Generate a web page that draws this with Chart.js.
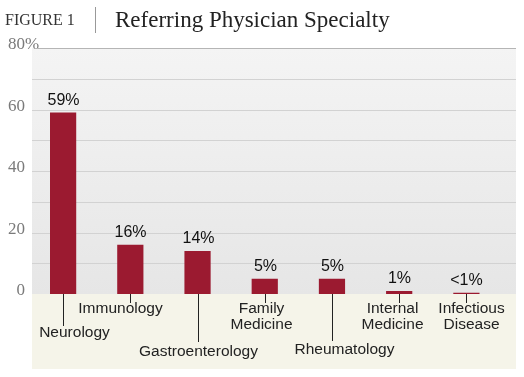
<!DOCTYPE html>
<html>
<head>
<meta charset="utf-8">
<script src="https://cdn.jsdelivr.net/npm/chart.js@4/dist/chart.umd.min.js"></script>
<style>
  html, body { margin: 0; padding: 0; background: #fff; }
  #wrap { position: relative; width: 524px; height: 377px; }
</style>
</head>
<body>
<div id="wrap"><canvas id="chart" width="524" height="377"></canvas></div>
<script>
const categories = [
  ['Neurology'],
  ['Immunology'],
  ['Gastroenterology'],
  ['Family', 'Medicine'],
  ['Rheumatology'],
  ['Internal', 'Medicine'],
  ['Infectious', 'Disease']
];
const shares = [59, 16, 14, 5, 5, 1, 0.4];
const valueLabels = ['59%', '16%', '14%', '5%', '5%', '1%', '<1%'];
const yTicks = [0, 20, 40, 60, 80];

// label placement under the axis (leader length, text centre y, x nudge)
const labelLayout = [
  { lineTo: 326, y: 333, dx: 11 },
  { lineTo: 303, y: 309, dx: -10 },
  { lineTo: 342, y: 352, dx: 0 },
  { lineTo: 303, y: 309, dx: -4 },
  { lineTo: 341, y: 350, dx: 12 },
  { lineTo: 303, y: 309, dx: -7 },
  { lineTo: 303, y: 309, dx: 5 }
];

const PLOT_LEFT = 32, PLOT_RIGHT = 516, BEIGE_BOTTOM = 369;
const SANS = '"Liberation Sans", Arial, sans-serif';
const SERIF = '"Liberation Serif", "DejaVu Serif", serif';

const backdrop = {
  id: 'backdrop',
  beforeDraw(chart) {
    const ctx = chart.ctx;
    const y = chart.scales.y;
    const top = y.getPixelForValue(80), bottom = y.getPixelForValue(0);
    ctx.save();
    // title
    ctx.fillStyle = '#333';
    ctx.textBaseline = 'alphabetic';
    ctx.font = '16px ' + SERIF;
    ctx.fillText('FIGURE 1', 5, 25);
    ctx.strokeStyle = '#999';
    ctx.lineWidth = 1;
    ctx.beginPath(); ctx.moveTo(95.5, 7); ctx.lineTo(95.5, 33); ctx.stroke();
    ctx.font = '23px ' + SERIF;
    ctx.fillStyle = '#222';
    ctx.fillText('Referring Physician Specialty', 115, 27);

    // plot background
    const g = ctx.createLinearGradient(0, top, 0, bottom);
    g.addColorStop(0, '#f4f4f4');
    g.addColorStop(1, '#e6e6e6');
    ctx.fillStyle = g;
    ctx.fillRect(PLOT_LEFT, top, PLOT_RIGHT - PLOT_LEFT, bottom - top);
    ctx.fillStyle = '#f5f4e9';
    ctx.fillRect(PLOT_LEFT, bottom, PLOT_RIGHT - PLOT_LEFT, BEIGE_BOTTOM - bottom);

    // grid
    for (let v = 10; v < 80; v += 10) {
      const py = Math.round(y.getPixelForValue(v)) + 0.5;
      ctx.strokeStyle = '#d2d2d2';
      ctx.beginPath(); ctx.moveTo(PLOT_LEFT, py); ctx.lineTo(PLOT_RIGHT, py); ctx.stroke();
    }
    const ty = Math.round(top) + 0.5;
    ctx.strokeStyle = '#b5b5b5';
    ctx.beginPath(); ctx.moveTo(38, ty); ctx.lineTo(PLOT_RIGHT, ty); ctx.stroke();

    // y tick labels
    ctx.fillStyle = '#7a7a7a';
    ctx.font = '17px ' + SERIF;
    ctx.textBaseline = 'middle';
    yTicks.forEach(v => {
      const py = y.getPixelForValue(v);
      ctx.textAlign = 'right';
      ctx.fillText(String(v), 25, py - 3);
      if (v === 80) {
        ctx.textAlign = 'left';
        ctx.fillText('%', 25, py - 3);
      }
    });
    ctx.restore();
  },
  afterDatasetsDraw(chart) {
    const ctx = chart.ctx;
    const x = chart.scales.x, y = chart.scales.y;
    const base = y.getPixelForValue(0);
    ctx.save();
    ctx.textAlign = 'center';
    ctx.textBaseline = 'middle';
    categories.forEach((lines, i) => {
      const cx = Math.round(x.getPixelForValue(i)) + 0.5;
      const L = labelLayout[i];
      ctx.strokeStyle = '#222';
      ctx.lineWidth = 1;
      ctx.beginPath(); ctx.moveTo(cx, base); ctx.lineTo(cx, L.lineTo); ctx.stroke();
      ctx.fillStyle = '#222';
      ctx.font = '15.5px ' + SANS;
      lines.forEach((t, k) => ctx.fillText(t, cx + L.dx, L.y + k * 16));
      // value above bar
      const top = y.getPixelForValue(shares[i]);
      ctx.fillStyle = '#111';
      ctx.font = '16px ' + SANS;
      ctx.fillText(valueLabels[i], cx, top - 12);
    });
    ctx.restore();
  }
};

new Chart(document.getElementById('chart'), {
  type: 'bar',
  data: {
    labels: categories.map(c => c.join(' ')),
    datasets: [{
      data: shares,
      backgroundColor: '#9b1a30',
      borderWidth: 0,
      barPercentage: 0.39,
      categoryPercentage: 1
    }]
  },
  options: {
    responsive: false,
    animation: false,
    layout: { padding: { left: 29.5, right: 24, top: 48, bottom: 83 } },
    plugins: { legend: { display: false }, tooltip: { enabled: false } },
    scales: {
      x: { display: false },
      y: { display: false, min: 0, max: 80 }
    }
  },
  plugins: [backdrop]
});
</script>
</body>
</html>
